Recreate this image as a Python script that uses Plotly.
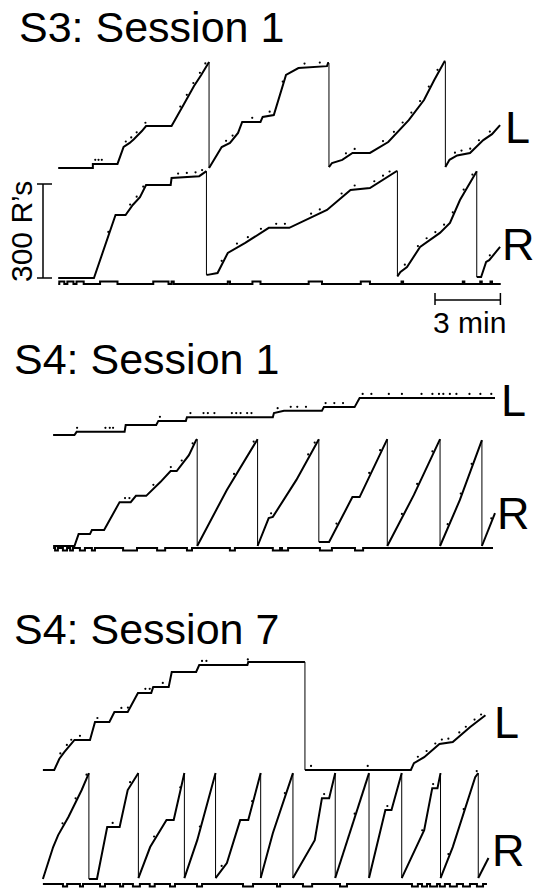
import numpy as np
import plotly.graph_objects as go

W, H = 534, 893
PX_PER_MIN = 21.8          # horizontal paper speed (px per minute)
R_PER_PX = 300 / 94        # responses per px (from the 300 R's bar)
FONT = "Liberation Sans, Arial, Helvetica, sans-serif"

# ---------------- data: time (min) and cumulative responses ----------------
# S3: Session 1
s3_1_L_t = [0, 1.59, 1.59, 2.72, 3.0, 3.28, 3.47, 3.66, 3.84, 4.03, 5.2, 5.77, 6.23, 6.56, 6.89, 6.92, 6.92,
            7.5, 7.88, 8.25, 8.44, 9.28, 9.38, 9.89, 10.45, 11.02, 12.33, 12.38, 12.42, 12.42,
            12.56, 13.03, 13.5, 14.3, 15.14, 16.08, 16.78, 17.25, 17.63, 17.72, 17.76, 17.76,
            17.95, 18.3, 18.89, 19.5, 19.9, 20.27]
s3_1_L_r = [0, 0, 13, 13, 67, 80, 92, 105, 118, 134, 134, 204, 262, 297, 338, 338, 0,
            67, 80, 112, 147, 147, 163, 169, 297, 319, 325, 335, 335, 3,
            16, 26, 48, 48, 83, 153, 217, 281, 330, 340, 340, 3,
            26, 40, 48, 89, 108, 137]
s3_1_R_t = [0, 1.64, 2.63, 3.09, 3.42, 3.75, 4.03, 5.16, 5.2, 6.47, 6.8, 6.8,
            6.85, 7.31, 7.78, 8.58, 9.66, 10.6, 11.39, 12.33, 13.41, 14.3, 15.52, 15.56, 15.56,
            15.7, 16.0, 16.28, 16.6, 17.51, 17.97, 18.43, 19.15, 19.2, 19.2,
            19.4, 19.63, 19.77, 20.27]
s3_1_R_r = [0, 0, 201, 201, 233, 258, 297, 297, 319, 325, 341, 10,
            10, 16, 80, 112, 160, 160, 185, 217, 281, 287, 341, 341, 5,
            19, 35, 67, 99, 144, 176, 249, 335, 341, 3,
            3, 51, 57, 99]
s3_1_ev_on = [0.05, 0.42, 0.84, 1.92, 4.36, 5.2, 7.78, 8.91, 11.49, 13.88, 15.75, 18.56, 19.36, 19.83]
s3_1_ev_off = [0.28, 0.7, 1.17, 2.72, 5.06, 5.3, 7.88, 9.28, 12.1, 14.3, 15.82, 18.63, 19.43, 19.9]
s3_1_ev_end = 20.3
s3_1_L_pips = [1.7, 1.85, 2.0, 3.1, 3.35, 3.6, 4.0, 5.6, 5.9, 6.2, 6.5, 6.75, 7.7, 8.0, 8.9, 9.7, 10.3,
               11.3, 12.0, 13.2, 13.6, 14.9, 15.4, 15.8, 16.2, 16.6, 17.0, 17.4, 18.2, 18.5, 18.9, 19.3, 19.8]
s3_1_R_pips = [2.3, 3.3, 3.6, 3.9, 5.5, 5.9, 6.3, 6.6, 7.5, 8.2, 8.7, 9.3, 10.0, 10.4, 11.6, 12.0, 13.0,
               13.6, 14.5, 14.9, 15.2, 15.9, 16.5, 16.9, 17.3, 17.7, 18.1, 18.6, 19.0, 19.8]

# S4: Session 1
s4_1_L_t = [0, 0.98, 1.08, 3.28, 3.33, 4.73, 4.83, 6.09, 6.14, 10.08, 10.13, 10.59, 12.33, 12.42, 13.83, 14.06, 20.27]
s4_1_L_r = [0, 0, 10, 10, 32, 32, 45, 45, 57, 57, 70, 77, 77, 89, 89, 118, 118]
s4_1_R_t = [0, 0.98, 1.17, 1.69, 1.78, 2.34, 3.05, 3.56, 3.8, 4.27, 4.92, 5.39, 5.67, 6.23, 6.56, 6.61, 6.61,
            7.97, 9.38, 9.38, 9.89, 10.08, 11.16, 12.19, 12.19, 12.66, 13.73, 14.06, 15.33, 15.33,
            16.55, 17.75, 17.75, 18.66, 19.67, 19.67, 20.27]
s4_1_R_r = [0, 0, 38, 38, 51, 51, 140, 140, 160, 160, 204, 239, 239, 290, 338, 341, 0,
            179, 341, 0, 89, 93, 211, 341, 13, 13, 156, 156, 341, 0,
            163, 341, 0, 147, 338, 0, 105]
s4_1_ev_on = [0.09, 0.45, 0.78, 1.23, 1.78, 3.21, 4.77, 6.14, 8.11, 10.08, 10.5, 12.24, 13.85]
s4_1_ev_off = [0.22, 0.64, 0.91, 1.46, 1.92, 3.85, 5.14, 6.37, 8.34, 10.41, 10.78, 12.79, 14.22]
s4_1_ev_end = 20.18
s4_1_L_pips = [1.1, 2.4, 2.6, 2.75, 4.9, 6.3, 6.9, 7.1, 7.4, 8.2, 8.4, 8.6, 8.9, 9.1, 10.3, 10.9, 11.2, 11.6,
               12.5, 12.9, 13.3, 14.2, 14.6, 15.4, 16.0, 16.9, 17.4, 17.7, 17.9, 18.2, 18.5, 19.1, 19.6, 20.1]
s4_1_R_pips = [3.3, 3.5, 4.6, 5.4, 5.9, 6.4, 8.3, 9.2, 10.0, 11.7, 12.0, 13.0, 14.5, 15.0, 16.0, 16.7,
               17.4, 18.1, 18.7, 19.2, 20.1]

# S4: Session 7
s4_7_L_t = [0, 0.52, 0.75, 0.98, 1.45, 2.16, 2.39, 3.05, 3.28, 3.89, 4.36, 4.97, 5.06, 5.77, 5.91, 7.03,
            7.17, 9.38, 9.42, 12.02, 12.02, 16.88, 17.02, 17.49, 18.19, 18.8, 19.6, 20.3]
s4_7_L_r = [0, 0, 35, 57, 96, 96, 153, 153, 185, 185, 246, 246, 265, 265, 313, 313,
            335, 335, 345, 345, 0, 0, 22, 41, 83, 89, 137, 175]
s4_7_R_t = [0, 0.47, 0.7, 1.17, 1.78, 2.11, 2.11, 2.48, 2.95, 3.52, 3.89, 4.38, 4.38,
            4.92, 5.67, 6.0, 6.49, 6.49, 7.08, 7.92, 7.92, 8.44, 9.05, 9.42, 9.99, 9.99,
            10.55, 11.47, 11.47, 12.47, 12.8, 13.13, 13.41, 13.41, 14.96, 14.96,
            15.71, 15.99, 16.46, 16.46, 17.49, 17.86, 18.1, 18.24, 18.24, 18.8, 19.83, 19.97, 19.97, 20.44]
s4_7_R_r = [0, 102, 140, 198, 284, 338, 0, 0, 166, 166, 284, 338, 3,
            102, 188, 188, 338, 3, 124, 338, 3, 51, 188, 188, 338, 3,
            147, 338, 3, 124, 258, 258, 338, 3, 338, 3,
            220, 220, 338, 3, 156, 290, 290, 338, 3, 102, 325, 338, 3, 67]
s4_7_ev_on = [0.92, 1.7, 2.62, 3.54, 4.13, 4.9, 5.83, 7.07, 9.18, 10.74, 11.93, 13.63, 16.93, 17.39, 17.76,
              18.21, 18.67, 19.27, 19.91]
s4_7_ev_off = [1.11, 1.84, 2.85, 3.68, 4.45, 5.13, 6.06, 7.3, 9.64, 10.88, 12.35, 13.95, 17.2, 17.62, 18.08,
               18.44, 18.99, 19.59, 20.19]
s4_7_ev_end = 20.37
s4_7_L_pips = [0.8, 1.1, 1.3, 1.7, 2.5, 3.6, 3.9, 4.7, 4.9, 5.5, 7.3, 7.5, 9.4, 12.3, 14.9, 17.2, 17.6, 18.0,
               18.3, 18.6, 19.1, 19.4, 19.8, 20.1]
s4_7_R_pips = [0.9, 1.5, 2.0, 3.2, 4.0, 5.1, 6.3, 7.2, 8.2, 9.6, 11.1, 12.9, 14.3, 15.8, 17.4, 17.9, 18.6,
               19.3, 19.9]

SCALE_R = 300      # response scale bar
SCALE_MIN = 3      # time scale bar

panels = [
    dict(title="S3: Session 1", Lt=s3_1_L_t, Lr=s3_1_L_r, Rt=s3_1_R_t, Rr=s3_1_R_r,
         on=s3_1_ev_on, off=s3_1_ev_off, end=s3_1_ev_end, Lp=s3_1_L_pips, Rp=s3_1_R_pips, evsign=1),
    dict(title="S4: Session 1", Lt=s4_1_L_t, Lr=s4_1_L_r, Rt=s4_1_R_t, Rr=s4_1_R_r,
         on=s4_1_ev_on, off=s4_1_ev_off, end=s4_1_ev_end, Lp=s4_1_L_pips, Rp=s4_1_R_pips, evsign=-1),
    dict(title="S4: Session 7", Lt=s4_7_L_t, Lr=s4_7_L_r, Rt=s4_7_R_t, Rr=s4_7_R_r,
         on=s4_7_ev_on, off=s4_7_ev_off, end=s4_7_ev_end, Lp=s4_7_L_pips, Rp=s4_7_R_pips, evsign=-1),
]

# ---------------- layout geometry (pixels) ----------------
geom = [
    dict(x0=58.2, yL=168, yR=278, yE=284, title=(17, 27), Lpos=(517, 128), Rpos=(518, 245)),
    dict(x0=53.1, yL=435, yR=546, yE=548, title=(12, 359), Lpos=(513, 400), Rpos=(513, 513)),
    dict(x0=42.9, yL=770, yR=879, yE=884, title=(12, 629), Lpos=(506, 722), Rpos=(508, 850)),
]


def ydom(yb, lo, hi, upp):
    bottom = yb - lo / upp
    top = yb - hi / upp
    return [1 - bottom / H, 1 - top / H]


fig = go.Figure()
layout = dict(width=W, height=H, margin=dict(l=0, r=0, t=0, b=0), autosize=False,
              paper_bgcolor="white", plot_bgcolor="rgba(0,0,0,0)", showlegend=False)
annotations = []
shapes = []
axis_common = dict(visible=False, showgrid=False, zeroline=False, fixedrange=True)

REC_LO, REC_HI = -10, 360
EV_LO, EV_HI = -2, 2
EV_PX = 2.6   # px per event-pen unit

for i, (p, g) in enumerate(zip(panels, geom)):
    xa = "x" if i == 0 else f"x{i + 1}"
    xkey = "xaxis" if i == 0 else f"xaxis{i + 1}"
    layout[xkey] = dict(domain=[0, 1], range=[-g["x0"] / PX_PER_MIN, (W - g["x0"]) / PX_PER_MIN],
                        **axis_common)
    ids = [3 * i + 1, 3 * i + 2, 3 * i + 3]
    ynames = ["y" if k == 1 else f"y{k}" for k in ids]
    ykeys = ["yaxis" if k == 1 else f"yaxis{k}" for k in ids]
    layout[ykeys[0]] = dict(domain=ydom(g["yL"], REC_LO, REC_HI, R_PER_PX), range=[REC_LO, REC_HI],
                            anchor=xa, **axis_common)
    layout[ykeys[1]] = dict(domain=ydom(g["yR"], REC_LO, REC_HI, R_PER_PX), range=[REC_LO, REC_HI],
                            anchor=xa, **axis_common)
    layout[ykeys[2]] = dict(domain=ydom(g["yE"], EV_LO, EV_HI, 1 / EV_PX), range=[EV_LO, EV_HI],
                            anchor=xa, **axis_common)

    for (tt, rr, pips, ya) in [(p["Lt"], p["Lr"], p["Lp"], ynames[0]), (p["Rt"], p["Rr"], p["Rp"], ynames[1])]:
        tt = np.array(tt, float)
        rr = np.array(rr, float)
        # split at resets (vertical drops)
        pieces_t, pieces_r, vt, vr = [], [], [], []
        start = 0
        for k in range(1, len(tt)):
            if tt[k] == tt[k - 1] and rr[k] < rr[k - 1] - 50:
                pieces_t += list(tt[start:k]) + [None]
                pieces_r += list(rr[start:k]) + [None]
                vt += [tt[k - 1], tt[k], None]
                vr += [rr[k - 1], rr[k], None]
                start = k
        pieces_t += list(tt[start:])
        pieces_r += list(rr[start:])
        fig.add_trace(go.Scatter(x=pieces_t, y=pieces_r, mode="lines", xaxis=xa, yaxis=ya,
                                 line=dict(color="black", width=2.0), hoverinfo="skip"))
        fig.add_trace(go.Scatter(x=vt, y=vr, mode="lines", xaxis=xa, yaxis=ya,
                                 line=dict(color="black", width=1.0), hoverinfo="skip"))
        # pips (small dots just above the record)
        pv = np.interp(pips, tt, rr) + 13
        fig.add_trace(go.Scatter(x=pips, y=pv, mode="markers", xaxis=xa, yaxis=ya,
                                 marker=dict(color="black", size=2.2), hoverinfo="skip"))

    # event pen
    et, ey = [0.0], [0.0]
    for a, b in zip(p["on"], p["off"]):
        et += [a, a, b, b]
        ey += [0, p["evsign"], p["evsign"], 0]
    et.append(p["end"])
    ey.append(0)
    fig.add_trace(go.Scatter(x=et, y=ey, mode="lines", xaxis=xa, yaxis=ynames[2],
                             line=dict(color="black", width=2.0, shape="linear"), hoverinfo="skip"))

    # titles and pen labels
    tx, ty = g["title"]
    annotations.append(dict(text=p["title"], x=tx / W, y=1 - ty / H, xref="paper", yref="paper",
                            xanchor="left", yanchor="middle", showarrow=False,
                            font=dict(family=FONT, size=43, color="black")))
    for lab, pos in [("L", g["Lpos"]), ("R", g["Rpos"])]:
        annotations.append(dict(text=lab, x=pos[0] / W, y=1 - pos[1] / H, xref="paper", yref="paper",
                                xanchor="center", yanchor="middle", showarrow=False,
                                font=dict(family=FONT, size=45, color="black")))

# ---------- scale bars (panel 1) ----------
# 300 R's vertical bar on the panel-1 R record axis
bar_x, cap_l, cap_r = 43 / W, 37 / W, 52 / W
shapes.append(dict(type="line", xref="paper", yref="y2", x0=bar_x, x1=bar_x, y0=0, y1=SCALE_R,
                   line=dict(color="black", width=1.5)))
for yv in (0, SCALE_R):
    shapes.append(dict(type="line", xref="paper", yref="y2", x0=cap_l, x1=cap_r, y0=yv, y1=yv,
                       line=dict(color="black", width=1.5)))
annotations.append(dict(text="300 R\u2019s", x=21 / W, y=1 - 232 / H, xref="paper", yref="paper",
                        xanchor="center", yanchor="middle", textangle=-90, showarrow=False,
                        font=dict(family=FONT, size=30, color="black")))
# 3 min horizontal bar on the panel-1 time axis
t_bar0 = (435 - geom[0]["x0"]) / PX_PER_MIN
ybar, ytick0, ytick1 = 1 - 300 / H, 1 - 293 / H, 1 - 305 / H
shapes.append(dict(type="line", xref="x", yref="paper", x0=t_bar0, x1=t_bar0 + SCALE_MIN, y0=ybar, y1=ybar,
                   line=dict(color="black", width=1.5)))
for tv in (t_bar0, t_bar0 + SCALE_MIN):
    shapes.append(dict(type="line", xref="x", yref="paper", x0=tv, x1=tv, y0=ytick0, y1=ytick1,
                       line=dict(color="black", width=1.5)))
annotations.append(dict(text="3 min", x=469 / W, y=1 - 323 / H, xref="paper", yref="paper",
                        xanchor="center", yanchor="middle", showarrow=False,
                        font=dict(family=FONT, size=30, color="black")))

layout["annotations"] = annotations
layout["shapes"] = shapes
fig.update_layout(**layout)
fig.write_html("out.html", config={"displayModeBar": False, "staticPlot": True},
               post_script="document.body.style.margin='0';document.body.style.overflow='hidden';")
